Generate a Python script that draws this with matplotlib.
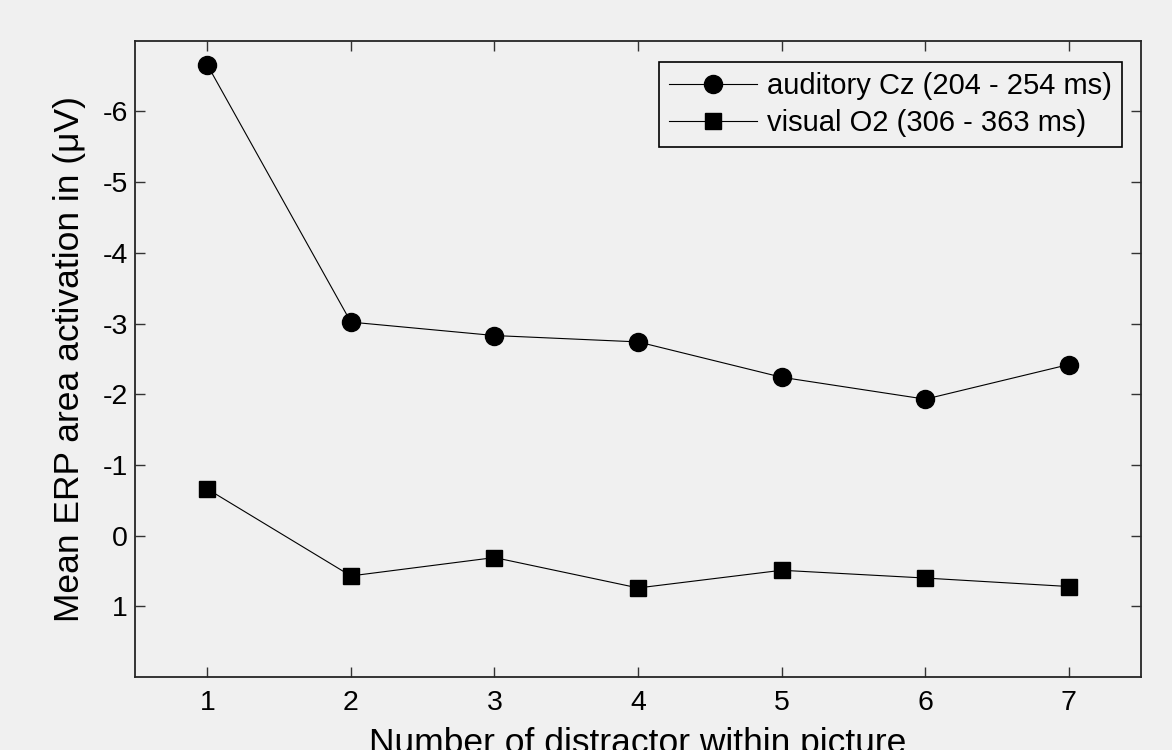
import numpy as np
import matplotlib
matplotlib.use("Agg")
import matplotlib.pyplot as plt

# DATOS
distractor = [1, 2, 3, 4, 5, 6, 7]
auditory_cz = [-6.66, -3.02, -2.83, -2.74, -2.24, -1.93, -2.42]
visual_o2 = [-0.66, 0.57, 0.31, 0.74, 0.49, 0.60, 0.72]
yticks = [-6, -5, -4, -3, -2, -1, 0, 1]

plt.rcParams['font.family'] = ['Liberation Sans', 'DejaVu Sans']
plt.rcParams['axes.unicode_minus'] = False
bg = "#f0f0f0"

fig = plt.figure(figsize=(11.72, 7.5), dpi=100, facecolor=bg)
ax = fig.add_axes([0.1156, 0.0973, 0.8577, 0.8484], facecolor=bg)

ax.plot(distractor, auditory_cz, color="k", lw=0.8, marker="o", ms=13,
        label="auditory Cz (204 - 254 ms)")
ax.plot(distractor, visual_o2, color="k", lw=0.8, marker="s", ms=12,
        label="visual O2 (306 - 363 ms)")

ax.set_xlim(0.5, 7.5)
ax.set_ylim(2, -7)
ax.set_xticks(distractor)
ax.set_yticks(yticks)
ax.tick_params(direction="in", length=7, width=1, color="#333333",
               labelsize=20.5, top=True, right=True)
ax.tick_params(axis="x", pad=9)
ax.tick_params(axis="y", pad=5.5)
for s in ax.spines.values():
    s.set_color("#262626")
    s.set_linewidth(1.3)

ax.set_xlabel("Number of distractor within picture", fontsize=25.5, labelpad=8)
ax.set_ylabel("Mean ERP area activation in (\u03bcV)", fontsize=25.5, labelpad=12)

leg = ax.legend(loc="upper right", bbox_to_anchor=(0.9814, 0.9665),
                borderaxespad=0, fontsize=21, handlelength=3.0,
                fancybox=False, framealpha=1, facecolor=bg, edgecolor="k",
                borderpad=0.35, labelspacing=0.3, handletextpad=0.35)
leg.get_frame().set_linewidth(1.2)

plt.savefig("out.png", dpi=100, facecolor=bg)
